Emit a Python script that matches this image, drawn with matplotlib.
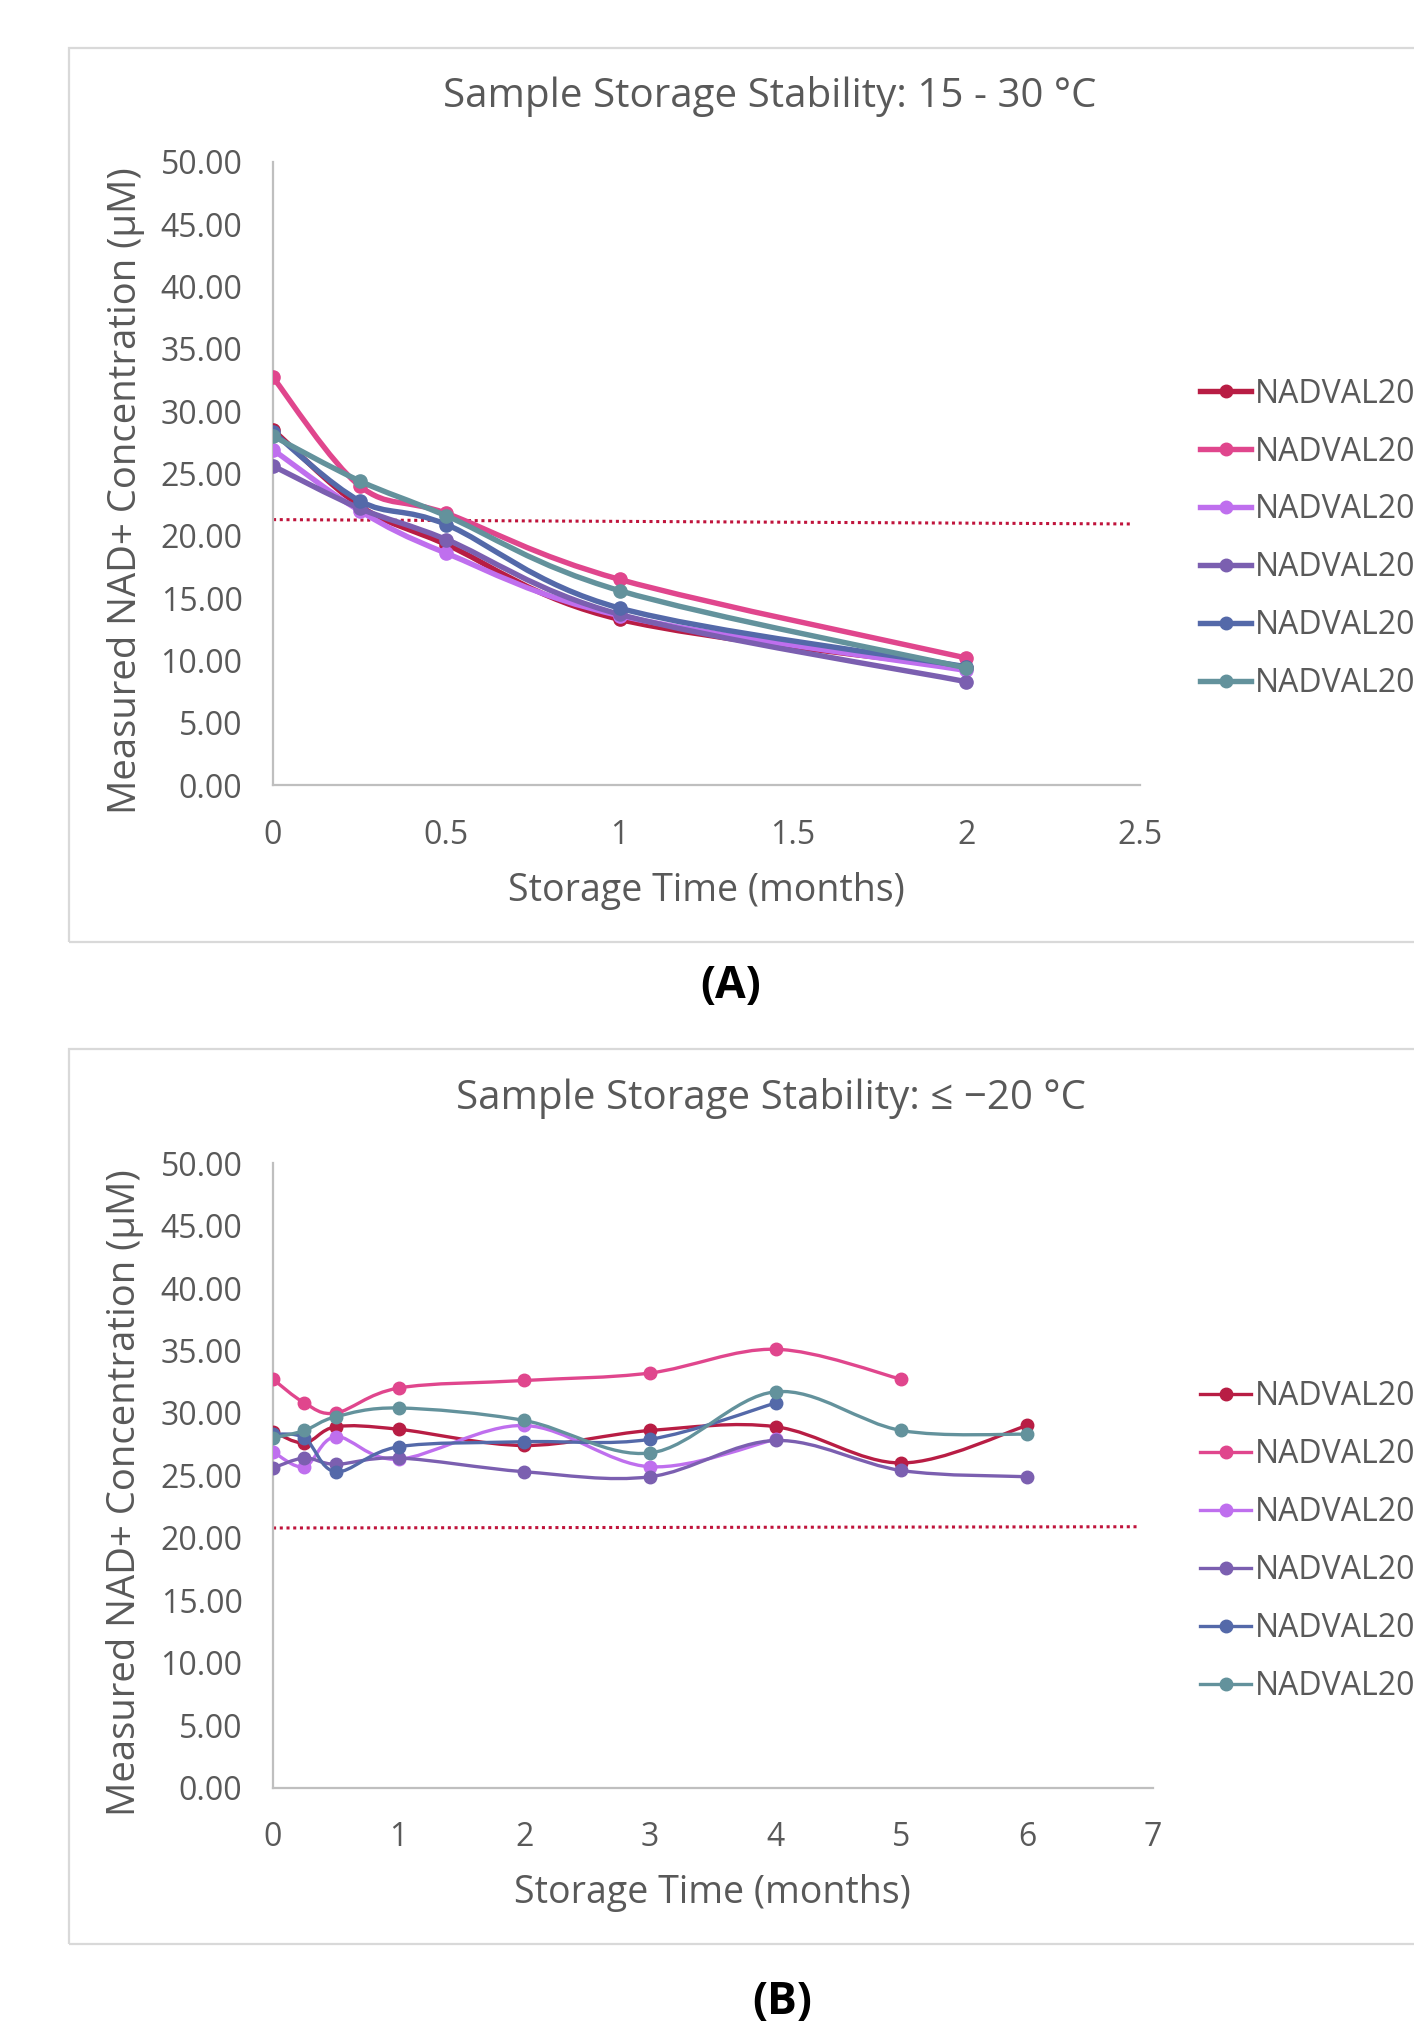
import numpy as np
import matplotlib
matplotlib.use("Agg")
import matplotlib.pyplot as plt
from matplotlib.path import Path
from matplotlib.patches import PathPatch, Rectangle
from matplotlib.lines import Line2D
from matplotlib.ticker import FuncFormatter, MultipleLocator

plt.rcParams['font.family'] = ['Open Sans', 'DejaVu Sans']

# legend text is cut at the right edge in the source image
samples = ['NADVAL20'] * 6
colors = ['#B81D44', '#E0468D', '#BF6FEE', '#7B5FB0', '#5469A9', '#63929C']

# (A) storage at 15 - 30 °C
time_a = [0, 0.25, 0.5, 1, 2]
conc_a = [
    [28.5, 22.4, 19.3, 13.3, 9.4],
    [32.7, 24.0, 21.8, 16.5, 10.2],
    [26.9, 22.0, 18.6, 13.6, 9.2],
    [25.6, 22.2, 19.7, 13.7, 8.3],
    [28.3, 22.8, 20.9, 14.2, 9.5],
    [28.0, 24.4, 21.6, 15.6, 9.4],
]
limit_a_x = [0, 2.48]
limit_a_y = [21.3, 20.95]

# (B) storage at <= -20 °C
time_b = [0, 0.25, 0.5, 1, 2, 3, 4, 5, 6]
conc_b = [
    [28.5, 27.6, 28.9, 28.7, 27.4, 28.6, 28.9, 26.0, 29.0],
    [32.7, 30.8, 30.0, 32.0, 32.6, 33.2, 35.1, 32.7],
    [26.9, 25.7, 28.1, 26.3, 29.0, 25.7, 27.9],
    [25.6, 26.4, 25.9, 26.4, 25.3, 24.9, 27.8, 25.4, 24.9],
    [28.3, 28.0, 25.3, 27.3, 27.7, 27.9, 30.8],
    [28.0, 28.6, 29.7, 30.4, 29.4, 26.8, 31.7, 28.6, 28.3],
]
limit_b_x = [0, 6.89]
limit_b_y = [20.8, 20.9]

TXT = '#595959'


def smooth_path(x, y):
    # excel-style smoothed line: cubic bezier through the points
    pts = np.column_stack([x, y]).astype(float)
    n = len(pts)
    verts = [pts[0]]
    codes = [Path.MOVETO]
    for i in range(n - 1):
        p0 = pts[i - 1] if i > 0 else pts[i]
        p1 = pts[i]
        p2 = pts[i + 1]
        p3 = pts[i + 2] if i + 2 < n else pts[i + 1]
        verts += [p1 + (p2 - p0) / 6, p2 - (p3 - p1) / 6, p2]
        codes += [Path.CURVE4] * 3
    return Path(verts, codes)


def draw_panel(ax, times, series, lim_x, lim_y, xmax, xstep, lw, ms):
    for i, (vals, c) in enumerate(zip(series, colors)):
        x = times[:len(vals)]
        patch = PathPatch(smooth_path(x, vals), fill=False, edgecolor=c, lw=lw,
                          capstyle='round', joinstyle='round', zorder=3 + i)
        ax.add_patch(patch)
        ax.plot(x, vals, 'o', color=c, ms=ms, zorder=3 + i)
    ax.plot(lim_x, lim_y, linestyle=(0, (1, 1.2)), color='#C0143C', lw=2.2, zorder=2)
    ax.set_xlim(0, xmax)
    ax.set_ylim(0, 50)
    ax.yaxis.set_major_locator(MultipleLocator(5))
    ax.yaxis.set_major_formatter(FuncFormatter(lambda v, p: f'{v:.2f}'))
    ax.xaxis.set_major_locator(MultipleLocator(xstep))
    ax.xaxis.set_major_formatter(FuncFormatter(lambda v, p: f'{v:g}'))
    for s in ['top', 'right']:
        ax.spines[s].set_visible(False)
    for s in ['left', 'bottom']:
        ax.spines[s].set_color('#BFBFBF')
        ax.spines[s].set_linewidth(1.6)
    ax.tick_params(axis='y', length=0, pad=22, labelsize=23, labelcolor=TXT)
    ax.tick_params(axis='x', length=0, pad=24, labelsize=23, labelcolor=TXT)
    ax.set_xlabel('Storage Time (months)', fontsize=27, color=TXT)
    ax.set_ylabel('Measured NAD+ Concentration (µM)', fontsize=27.5, color=TXT)
    ax.xaxis.label.set_va('center')
    ax.yaxis.label.set_va('center')


fig = plt.figure(figsize=(14.14, 20.29), dpi=100)

# chart frames (right edge lies outside the picture)
fig.patches.append(Rectangle((0.0485, 0.5358), 1.2, 0.4406, transform=fig.transFigure,
                             fill=False, edgecolor='#D9D9D9', lw=1.6))
fig.patches.append(Rectangle((0.0485, 0.0419), 1.2, 0.4411, transform=fig.transFigure,
                             fill=False, edgecolor='#D9D9D9', lw=1.6))

ax1 = fig.add_axes([0.1931, 0.6130, 0.6130, 0.3073])
draw_panel(ax1, time_a, conc_a, limit_a_x, limit_a_y, 2.5, 0.5, 3.9, 9.5)
ax1.xaxis.set_label_coords(0.5, -0.170)
ax1.yaxis.set_label_coords(-0.17, 0.473)
fig.text(0.5445, 0.9525, 'Sample Storage Stability: 15 - 30 °C', fontsize=29,
         color=TXT, ha='center', va='center')

ax2 = fig.add_axes([0.1931, 0.1188, 0.6221, 0.3080])
draw_panel(ax2, time_b, conc_b, limit_b_x, limit_b_y, 7, 1, 2.4, 9.0)
ax2.xaxis.set_label_coords(0.5, -0.168)
ax2.yaxis.set_label_coords(-0.168, 0.473)
fig.text(0.5453, 0.4585, 'Sample Storage Stability: ≤ −20 °C', fontsize=29,
         color=TXT, ha='center', va='center')

for lw, y in [(3.9, 0.7344), (2.4, 0.2403)]:
    handles = [Line2D([], [], color=c, lw=lw, marker='o', ms=9) for c in colors]
    fig.legend(handles, samples, loc='center left', bbox_to_anchor=(0.8487, y),
               frameon=False, fontsize=23, labelcolor=TXT, handlelength=1.6,
               handletextpad=0.12, labelspacing=0.78, borderpad=0, borderaxespad=0)

fig.text(0.517, 0.5136, '(A)', fontsize=32, fontweight='bold', ha='center', va='center')
fig.text(0.5535, 0.002, '(B)', fontsize=32, fontweight='bold', ha='center', va='bottom')

fig.savefig('out.png', dpi=100, facecolor='white')
